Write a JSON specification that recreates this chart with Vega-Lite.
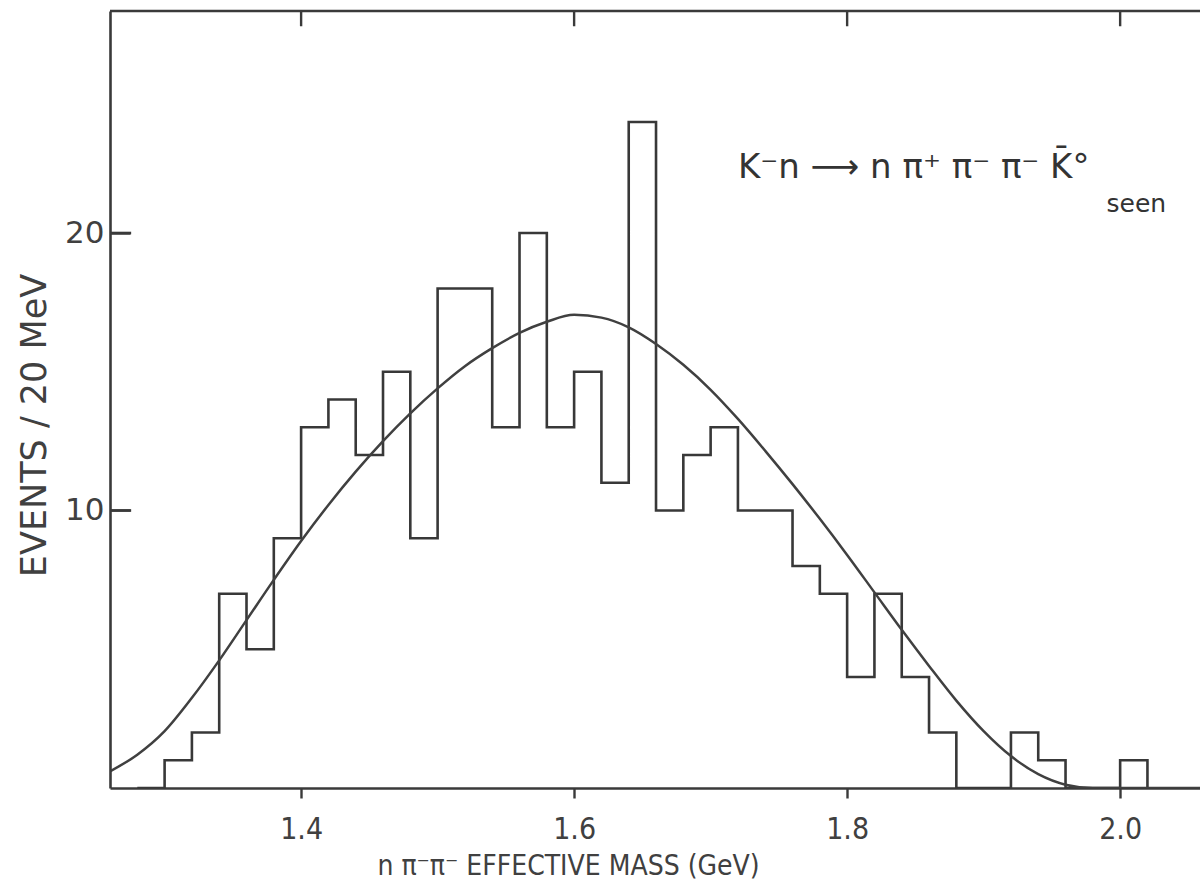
{
  "$schema": "https://vega.github.io/schema/vega-lite/v6.json",
  "width": 1090,
  "height": 777,
  "autosize": {"type": "none"},
  "padding": {"left": 110, "top": 11, "right": 0, "bottom": 95},
  "background": "white",
  "config": {
    "view": {"stroke": null},
    "axis": {
      "grid": false,
      "domainColor": "#3a3a3a",
      "domainWidth": 2.6,
      "tickColor": "#3a3a3a",
      "tickWidth": 2.4,
      "labelColor": "#404040",
      "titleColor": "#404040",
      "titleFontWeight": "normal"
    }
  },
  "datasets": {
    "hist": [
      {"mass": 1.28, "events": 0}, {"mass": 1.30, "events": 1}, {"mass": 1.32, "events": 2},
      {"mass": 1.34, "events": 7}, {"mass": 1.36, "events": 5}, {"mass": 1.38, "events": 9},
      {"mass": 1.40, "events": 13}, {"mass": 1.42, "events": 14}, {"mass": 1.44, "events": 12},
      {"mass": 1.46, "events": 15}, {"mass": 1.48, "events": 9}, {"mass": 1.50, "events": 18},
      {"mass": 1.52, "events": 18}, {"mass": 1.54, "events": 13}, {"mass": 1.56, "events": 20},
      {"mass": 1.58, "events": 13}, {"mass": 1.60, "events": 15}, {"mass": 1.62, "events": 11},
      {"mass": 1.64, "events": 24}, {"mass": 1.66, "events": 10}, {"mass": 1.68, "events": 12},
      {"mass": 1.70, "events": 13}, {"mass": 1.72, "events": 10}, {"mass": 1.74, "events": 10},
      {"mass": 1.76, "events": 8}, {"mass": 1.78, "events": 7}, {"mass": 1.80, "events": 4},
      {"mass": 1.82, "events": 7}, {"mass": 1.84, "events": 4}, {"mass": 1.86, "events": 2},
      {"mass": 1.88, "events": 0}, {"mass": 1.90, "events": 0}, {"mass": 1.92, "events": 2},
      {"mass": 1.94, "events": 1}, {"mass": 1.96, "events": 0}, {"mass": 1.98, "events": 0},
      {"mass": 2.00, "events": 1}, {"mass": 2.02, "events": 0}
    ],
    "curve": [
      {"mass": 1.26, "events": 0.6}, {"mass": 1.28, "events": 1.2}, {"mass": 1.30, "events": 2.05},
      {"mass": 1.32, "events": 3.25}, {"mass": 1.34, "events": 4.6}, {"mass": 1.36, "events": 6.05},
      {"mass": 1.38, "events": 7.5}, {"mass": 1.40, "events": 8.9}, {"mass": 1.42, "events": 10.2},
      {"mass": 1.44, "events": 11.4}, {"mass": 1.46, "events": 12.5}, {"mass": 1.48, "events": 13.5},
      {"mass": 1.50, "events": 14.4}, {"mass": 1.52, "events": 15.2}, {"mass": 1.54, "events": 15.85},
      {"mass": 1.56, "events": 16.4}, {"mass": 1.58, "events": 16.8}, {"mass": 1.60, "events": 17.05},
      {"mass": 1.62, "events": 16.95}, {"mass": 1.64, "events": 16.6}, {"mass": 1.66, "events": 16.0},
      {"mass": 1.68, "events": 15.25}, {"mass": 1.70, "events": 14.35}, {"mass": 1.72, "events": 13.3},
      {"mass": 1.74, "events": 12.15}, {"mass": 1.76, "events": 10.95}, {"mass": 1.78, "events": 9.7},
      {"mass": 1.80, "events": 8.4}, {"mass": 1.82, "events": 7.05}, {"mass": 1.84, "events": 5.7},
      {"mass": 1.86, "events": 4.4}, {"mass": 1.88, "events": 3.15}, {"mass": 1.90, "events": 2.05},
      {"mass": 1.92, "events": 1.15}, {"mass": 1.94, "events": 0.5}, {"mass": 1.96, "events": 0.12},
      {"mass": 1.98, "events": 0}, {"mass": 2.00, "events": 0}, {"mass": 2.0585, "events": 0}
    ],
    "topticks": [{"mass": 1.4}, {"mass": 1.6}, {"mass": 1.8}, {"mass": 2.0}],
    "leftticks": [
      {"tick": "10", "events": 10, "mass": 1.2605}, {"tick": "10", "events": 10, "mass": 1.2755},
      {"tick": "20", "events": 20, "mass": 1.2605}, {"tick": "20", "events": 20, "mass": 1.2755}
    ],
    "reaction": [{"mass": 1.72, "events": 22.0, "label": "K⁻n  ⟶  n π⁺ π⁻ π⁻  K̄°"}],
    "seen": [{"mass": 1.99, "events": 20.76, "label": "seen"}]
  },
  "layer": [
    {
      "data": {"name": "hist"},
      "mark": {"type": "line", "interpolate": "step-after", "color": "#383838", "strokeWidth": 2.6, "clip": true},
      "encoding": {
        "x": {
          "field": "mass", "type": "quantitative",
          "scale": {"domain": [1.26, 2.0585], "nice": false, "zero": false},
          "axis": {
            "orient": "bottom", "values": [1.4, 1.6, 1.8, 2.0], "format": ".1f",
            "tickSize": 10, "labelPadding": 40, "labelBaseline": "alphabetic",
            "labelFont": "DejaVu Sans Condensed", "labelFontSize": 30,
            "title": "n π⁻π⁻ EFFECTIVE MASS (GeV)",
            "titleFont": "DejaVu Sans Condensed", "titleFontSize": 28,
            "titleBaseline": "alphabetic", "titleX": 458, "titleY": 86
          }
        },
        "y": {
          "field": "events", "type": "quantitative",
          "scale": {"domain": [0, 28], "nice": false},
          "axis": {
            "orient": "left", "values": [10, 20], "format": "d",
            "tickSize": -20, "labelPadding": 26, "zindex": 1,
            "labelFont": "DejaVu Sans", "labelFontSize": 31,
            "title": "EVENTS / 20 MeV",
            "titleFont": "DejaVu Sans", "titleFontSize": 35,
            "titleBaseline": "alphabetic", "titleX": -65, "titleY": 414
          }
        }
      }
    },
    {
      "data": {"name": "curve"},
      "mark": {"type": "line", "interpolate": "monotone", "color": "#404040", "strokeWidth": 2.5, "clip": true},
      "encoding": {
        "x": {"field": "mass", "type": "quantitative"},
        "y": {"field": "events", "type": "quantitative"}
      }
    },
    {
      "data": {"values": [{}]},
      "mark": {"type": "rule", "color": "#3a3a3a", "strokeWidth": 2.6},
      "encoding": {
        "y": {"datum": 28, "type": "quantitative"}
      }
    },
    {
      "data": {"name": "topticks"},
      "mark": {"type": "rule", "color": "#3a3a3a", "strokeWidth": 2.4},
      "encoding": {
        "x": {"field": "mass", "type": "quantitative"},
        "y": {"datum": 28, "type": "quantitative"},
        "y2": {"datum": 27.45}
      }
    },
    {
      "data": {"name": "leftticks"},
      "mark": {"type": "line", "color": "#3a3a3a", "strokeWidth": 2.6},
      "encoding": {
        "x": {"field": "mass", "type": "quantitative"},
        "y": {"field": "events", "type": "quantitative"},
        "detail": {"field": "tick", "type": "nominal"}
      }
    },
    {
      "data": {"name": "reaction"},
      "mark": {"type": "text", "align": "left", "baseline": "alphabetic", "font": "DejaVu Sans", "fontSize": 34, "color": "#333333"},
      "encoding": {
        "x": {"field": "mass", "type": "quantitative"},
        "y": {"field": "events", "type": "quantitative"},
        "text": {"field": "label"}
      }
    },
    {
      "data": {"name": "seen"},
      "mark": {"type": "text", "align": "left", "baseline": "alphabetic", "font": "DejaVu Sans", "fontSize": 25, "color": "#333333"},
      "encoding": {
        "x": {"field": "mass", "type": "quantitative"},
        "y": {"field": "events", "type": "quantitative"},
        "text": {"field": "label"}
      }
    }
  ]
}
